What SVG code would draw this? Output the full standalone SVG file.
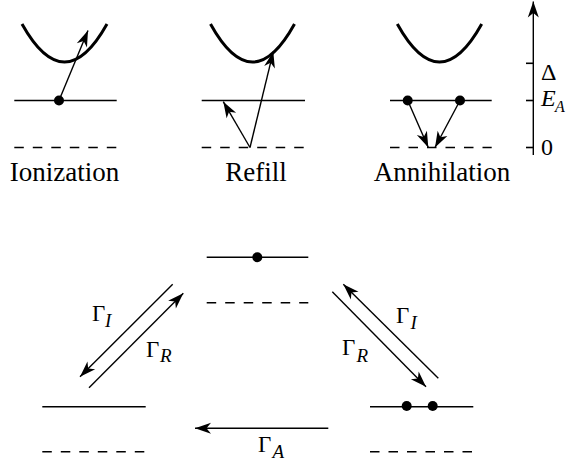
<svg xmlns="http://www.w3.org/2000/svg" width="569" height="468" viewBox="0 0 569 468">
<defs>
<marker id="ah" viewBox="-17 -6 18 12" markerWidth="18" markerHeight="12" refX="0" refY="0" orient="auto" markerUnits="userSpaceOnUse">
<path d="M0,0 L-16,-5.5 L-11.5,0 L-16,5.5 Z" fill="#000"/>
</marker>
</defs>
<style>
.band{fill:none;stroke:#000;stroke-width:3}
.lvl{fill:none;stroke:#000;stroke-width:1.6}
.dash{fill:none;stroke:#000;stroke-width:1.6;stroke-dasharray:9.5 9}
.arr{fill:none;stroke:#000;stroke-width:1.4;marker-end:url(#ah)}
.dot{fill:#000}
text{font-family:'Liberation Serif','DejaVu Serif',serif;fill:#000}
.lab{font-size:27px}
.g{font-size:23px}
.s{font-size:19px;font-style:italic}
</style>
<rect width="569" height="468" fill="#fff"/>

<g id="panel-ionization">
<path class="band" d="M22,24 Q64.5,100 107,24"/>
<line class="lvl" x1="14.3" y1="100.5" x2="116.7" y2="100.5"/>
<line class="dash" x1="14.3" y1="147.5" x2="116.7" y2="147.5"/>
<circle class="dot" cx="59" cy="100.5" r="5"/>
<line class="arr" x1="59" y1="100.5" x2="88" y2="30.5"/>
<text class="lab" x="64.5" y="181" text-anchor="middle">Ionization</text>
</g>

<g id="panel-refill">
<path class="band" d="M210.5,24 Q252.5,100 294.5,24"/>
<line class="lvl" x1="201.7" y1="100.5" x2="305" y2="100.5"/>
<line class="dash" x1="201.7" y1="147.5" x2="305" y2="147.5"/>
<line class="arr" x1="250" y1="147.5" x2="223.3" y2="101.7"/>
<line class="arr" x1="250" y1="147.5" x2="273.3" y2="51.7"/>
<text class="lab" x="256" y="181" text-anchor="middle">Refill</text>
</g>

<g id="panel-annihilation">
<path class="band" d="M397.3,24 Q439.5,100 481.7,24"/>
<line class="lvl" x1="390" y1="100.5" x2="491.7" y2="100.5"/>
<line class="dash" x1="390" y1="147.5" x2="491.7" y2="147.5"/>
<circle class="dot" cx="407.7" cy="100.5" r="5"/>
<circle class="dot" cx="460" cy="100.5" r="5"/>
<line class="arr" x1="407.7" y1="100.5" x2="428.3" y2="147.5"/>
<line class="arr" x1="460" y1="100.5" x2="435" y2="147.5"/>
<text class="lab" x="442" y="181" text-anchor="middle">Annihilation</text>
</g>

<g id="energy-axis">
<line class="arr" x1="533.3" y1="155" x2="533.3" y2="1.5"/>
<line class="lvl" x1="526" y1="63.3" x2="533.3" y2="63.3"/>
<line class="lvl" x1="526" y1="100.5" x2="533.3" y2="100.5"/>
<line class="lvl" x1="526" y1="147.5" x2="533.3" y2="147.5"/>
<text class="g" x="541" y="80" style="font-size:24px">Δ</text>
<text class="s" x="541" y="106" style="font-size:24px">E</text>
<text class="s" x="555" y="112" style="font-size:16px">A</text>
<text class="g" x="541" y="155" style="font-size:24px">0</text>
</g>

<g id="state-top">
<line class="lvl" x1="206.7" y1="257.3" x2="308.3" y2="257.3"/>
<line class="dash" x1="206.7" y1="302.7" x2="308.3" y2="302.7"/>
<circle class="dot" cx="257.3" cy="257.3" r="5"/>
</g>

<g id="state-left">
<line class="lvl" x1="42.3" y1="406.7" x2="145.7" y2="406.7"/>
<line class="dash" x1="42.3" y1="451.7" x2="145.7" y2="451.7"/>
</g>

<g id="state-right">
<line class="lvl" x1="370" y1="406.7" x2="473.3" y2="406.7"/>
<line class="dash" x1="370" y1="451.7" x2="473.3" y2="451.7"/>
<circle class="dot" cx="406.7" cy="406" r="5"/>
<circle class="dot" cx="432.7" cy="406" r="5"/>
</g>

<g id="connectors">
<line class="arr" x1="172.7" y1="284.3" x2="80" y2="376.7"/>
<line class="arr" x1="89" y1="387.7" x2="183.3" y2="293.3"/>
<line class="arr" x1="332.3" y1="291.7" x2="426" y2="386.7"/>
<line class="arr" x1="438.3" y1="378.3" x2="343.3" y2="284.3"/>
<line class="arr" x1="328.3" y1="428.3" x2="195" y2="428.3"/>
<text class="g" x="92" y="321">Γ</text><text class="s" x="105" y="327">I</text>
<text class="g" x="146" y="356.5">Γ</text><text class="s" x="160" y="362">R</text>
<text class="g" x="396" y="322.5">Γ</text><text class="s" x="410.5" y="329">I</text>
<text class="g" x="342" y="355">Γ</text><text class="s" x="356.5" y="362">R</text>
<text class="g" x="258" y="451.7">Γ</text><text class="s" x="272.5" y="458">A</text>
</g>
</svg>
